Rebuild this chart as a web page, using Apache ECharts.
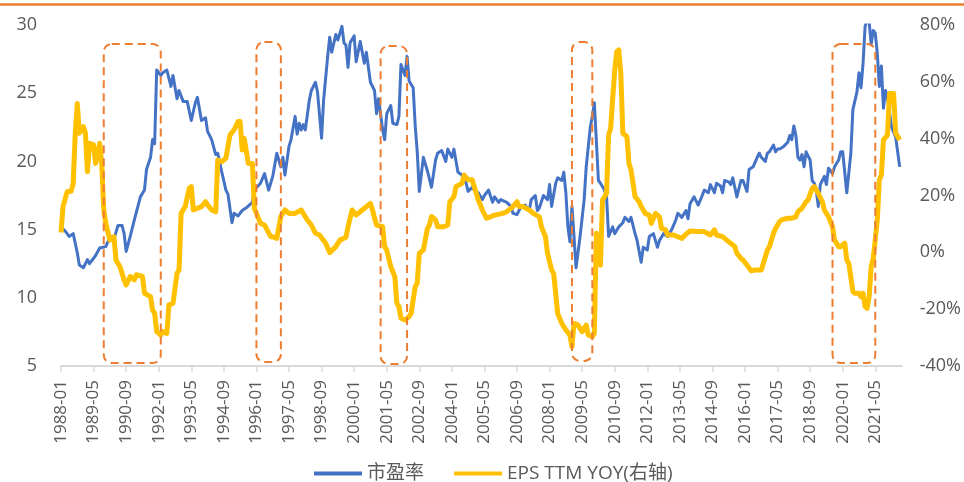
<!DOCTYPE html>
<html>
<head>
<meta charset="utf-8">
<script src="https://cdn.jsdelivr.net/npm/echarts@6/dist/echarts.min.js"></script>
<style>
  html, body { margin: 0; padding: 0; background: #ffffff; }
  #chart { width: 964px; height: 482px; }
</style>
</head>
<body>
<div id="chart"></div>
<script>
// Monthly categories, 1988-01 .. 2022-06
const startYear = 1988;
const monthCount = 414;
const months = [];
for (let i = 0; i < monthCount; i++) {
  const y = startYear + Math.floor(i / 12);
  const m = (i % 12) + 1;
  months.push(y + '-' + (m < 10 ? '0' + m : m));
}

// P/E ratio (left axis): [month offset from 1988-01, value]
const peSeries = [
  [0,15.2],[2,14.9],[4,14.5],[6,14.7],[8,13.3],[9,12.4],[11,12.2],[13,12.8],[14,12.5],[16,12.9],
  [17,13.1],[19,13.65],[22,13.75],[23,14.1],[25,14.5],[26,14.3],[28,15.3],[30,15.3],[31,14.7],[32,13.4],
  [34,14.5],[36,15.7],[39,17.4],[41,17.9],[42,19.4],[44,20.3],[45,21.6],[46,21.3],[47,26.7],[49,26.3],
  [50,26.5],[52,26.7],[54,25.5],[55,26.3],[57,24.6],[58,25.2],[60,24.4],[62,24.4],[64,23.0],[66,24.3],
  [67,24.7],[69,23.0],[71,23.2],[72,22.2],[74,21.6],[76,20.5],[77,20.6],[79,19.2],[81,17.9],[82,17.6],
  [84,15.5],[85,16.2],[87,16.0],[89,16.4],[91,16.6],[94,17.0],[95,17.9],[98,18.4],[100,19.1],[102,17.9],
  [104,18.9],[106,20.6],[108,19.6],[109,20.3],[110,19.0],[112,21.1],[113,21.6],[115,23.3],[116,22.0],[117,22.8],
  [118,22.3],[119,22.7],[120,22.3],[122,24.5],[123,25.2],[125,25.8],[126,25.1],[128,21.7],[129,24.5],[131,27.7],
  [132,29.1],[133,28.0],[135,29.3],[136,28.9],[138,29.9],[139,28.7],[140,28.5],[141,26.9],[142,28.7],[144,29.2],
  [145,27.3],[147,28.8],[149,27.2],[150,28.0],[152,25.8],[154,25.2],[155,23.5],[156,24.6],[158,22.3],[159,21.6],
  [160,23.5],[162,24.1],[163,22.8],[165,22.7],[166,23.3],[167,27.1],[169,26.3],[170,27.7],[171,25.9],[173,25.4],
  [174,22.6],[175,20.7],[176,17.8],[178,20.3],[180,19.3],[182,18.1],[184,20.1],[185,20.6],[187,20.8],[189,20.0],
  [190,20.9],[192,20.3],[193,20.9],[195,19.2],[197,19.0],[199,18.4],[200,17.8],[202,18.1],[203,17.9],[205,17.7],
  [207,17.2],[208,17.5],[210,17.9],[212,17.0],[213,17.4],[215,17.0],[216,17.2],[219,17.0],[221,16.7],[222,16.2],
  [224,16.1],[226,16.7],[228,16.8],[230,16.4],[231,17.2],[233,17.5],[234,16.4],[235,16.6],[237,17.5],[239,17.2],
  [240,18.3],[241,16.7],[243,18.4],[244,18.8],[246,18.6],[247,19.2],[248,17.7],[249,15.2],[250,14.1],[251,16.7],
  [252,14.5],[253,12.2],[255,14.5],[257,17.2],[258,19.6],[260,22.5],[261,23.3],[262,24.3],[264,18.6],[265,18.4],
  [267,17.9],[268,17.4],[269,14.5],[271,15.2],[272,14.7],[274,15.2],[276,15.5],[277,15.9],[279,15.6],[280,15.9],
  [282,14.7],[283,14.2],[285,12.6],[286,13.7],[288,13.5],[289,14.5],[291,14.7],[293,13.7],[294,14.2],[296,14.7],
  [298,14.5],[300,15.0],[302,15.7],[303,16.2],[305,15.9],[307,16.4],[308,15.8],[309,16.9],[311,17.4],[313,16.8],
  [315,17.5],[316,17.9],[318,17.7],[319,18.3],[321,17.7],[322,18.4],[324,18.2],[325,17.7],[326,18.6],[328,18.5],
  [329,18.3],[330,18.8],[332,17.4],[334,18.6],[335,18.6],[337,17.8],[338,19.4],[340,19.6],[342,20.3],[343,20.6],
  [344,20.3],[346,20.0],[347,20.6],[348,20.7],[350,21.2],[351,20.7],[352,20.9],[353,20.9],[355,21.1],[357,21.4],
  [358,21.9],[359,21.6],[360,22.6],[361,21.9],[362,20.3],[363,20.1],[364,20.5],[365,19.6],[366,20.7],[368,20.1],
  [369,18.6],[370,18.4],[371,17.9],[372,16.7],[373,18.3],[374,18.6],[375,18.9],[376,18.3],[377,19.5],[379,19.1],
  [380,19.6],[382,20.1],[383,20.7],[384,20.7],[386,17.7],[388,20.6],[389,23.8],[391,25.1],[392,26.5],[393,25.4],
  [394,27.2],[395,29.9],[396,30.4],[397,30.2],[398,28.6],[399,29.6],[400,29.4],[401,27.9],[402,25.5],[403,27.0],
  [404,23.9],[405,25.2],[406,24.7],[408,22.5],[410,21.8],[412,19.6]
];

// EPS TTM year-over-year growth, % (right axis): [month offset from 1988-01, value]
const epsSeries = [
  [0,7.0],[1,16.1],[3,21.3],[5,21.5],[6,24.3],[7,41.9],[8,52.4],[9,41.9],[11,44.2],[12,41.9],
  [13,28.4],[14,38.4],[16,37.8],[17,31.3],[18,33.7],[19,38.4],[20,31.3],[21,14.9],[22,10.2],[24,4.3],
  [26,5.5],[27,-2.7],[29,-5.1],[31,-9.7],[32,-11.5],[34,-8.5],[36,-9.7],[37,-7.9],[40,-8.5],[41,-14.4],
  [44,-15.6],[45,-20.3],[46,-21.4],[47,-27.9],[49,-29.1],[50,-27.9],[52,-28.5],[53,-18.5],[55,-18.0],[57,-7.4],
  [58,-6.2],[59,13.7],[61,16.1],[63,22.5],[64,23.1],[65,14.9],[67,15.5],[69,16.1],[71,17.8],[72,16.7],
  [74,14.9],[76,14.3],[77,32.5],[79,31.9],[81,33.1],[83,41.3],[85,43.1],[87,46.0],[88,46.0],[89,36.0],
  [90,40.1],[92,31.3],[94,31.3],[95,15.5],[98,10.2],[100,9.6],[103,5.5],[104,5.5],[106,4.9],[108,12.6],
  [110,14.9],[112,13.7],[115,13.7],[118,14.9],[121,11.4],[123,9.6],[125,6.7],[127,6.1],[130,3.2],[132,-0.1],
  [135,2.0],[137,4.3],[140,5.3],[141,9.0],[143,14.9],[145,13.1],[148,14.9],[150,16.1],[152,17.2],[153,14.9],
  [155,9.6],[158,9.0],[159,2.0],[160,0.8],[162,-5.0],[164,-8.6],[165,-17.9],[166,-19.1],[167,-23.2],[169,-23.8],
  [171,-22.6],[172,-21.5],[174,-12.1],[175,-10.9],[176,-0.3],[178,0.8],[180,8.4],[181,9.6],[182,12.6],[184,11.4],
  [185,9.0],[188,9.0],[190,9.6],[191,17.8],[193,19.6],[194,23.1],[197,24.3],[198,27.2],[200,25.5],[202,25.5],
  [203,23.1],[205,18.4],[207,14.9],[209,12.0],[211,12.5],[213,13.1],[217,13.7],[219,14.3],[222,16.1],[224,17.8],
  [225,16.1],[227,16.1],[230,14.9],[232,13.7],[235,12.5],[236,9.0],[238,5.5],[239,-0.3],[241,-6.2],[242,-7.4],
  [243,-14.4],[244,-21.5],[246,-25.0],[248,-27.3],[250,-29.1],[251,-33.2],[252,-25.0],[254,-25.6],[256,-27.9],[258,-25.6],
  [259,-29.1],[261,-29.7],[262,-28.5],[263,6.7],[264,-2.7],[265,-4.5],[266,18.4],[268,20.8],[269,41.3],[270,43.6],
  [272,64.2],[273,70.6],[274,71.2],[275,63.0],[276,41.9],[278,40.7],[279,31.3],[280,29.0],[282,19.6],[284,17.8],
  [285,16.1],[287,13.7],[289,13.1],[290,10.2],[292,13.7],[294,12.5],[295,8.4],[297,7.9],[298,6.1],[301,6.1],
  [303,5.5],[305,4.9],[307,6.4],[309,7.5],[312,7.3],[314,7.3],[316,7.3],[319,6.1],[321,7.9],[322,6.1],
  [325,5.5],[327,4.3],[330,2.6],[331,2.0],[332,-0.3],[334,-2.1],[335,-2.7],[337,-4.5],[339,-6.5],[341,-6.2],
  [344,-6.2],[345,-3.9],[347,0.8],[348,2.0],[350,6.7],[351,8.4],[353,10.8],[354,11.4],[357,12.0],[359,12.0],
  [361,12.5],[362,14.3],[364,15.5],[366,17.8],[367,18.4],[369,22.5],[370,23.1],[372,20.8],[374,17.8],[375,14.9],
  [377,12.5],[379,9.0],[380,4.3],[382,2.0],[383,2.0],[385,3.2],[386,-2.7],[387,-3.9],[389,-13.8],[390,-14.4],
  [392,-14.4],[393,-15.6],[394,-14.4],[395,-19.1],[396,-19.7],[397,-15.6],[398,-5.0],[399,-2.1],[401,11.4],[402,25.5],
  [403,27.2],[404,39.5],[406,41.3],[407,55.9],[409,55.9],[410,42.0],[412,39.5]
];

// Highlighted periods: [start month, end month, top (P/E), bottom (P/E)]
const highlightWindows = [
  [21, 49, 28.6, 5.22],
  [96, 108, 28.75, 5.29],
  [157, 170, 28.46, 5.15],
  [251, 261, 28.75, 5.37],
  [379, 400, 28.6, 5.22]
];

const peTicks = { min: 5, max: 30, interval: 5 };
const epsTicks = { min: -40, max: 80, interval: 20 };

const textColor = '#595959';
const fontFamily = '"Open Sans", "Noto Sans CJK SC", sans-serif';

const chart = echarts.init(document.getElementById('chart'), null, { renderer: 'canvas' });

chart.setOption({
  animation: false,
  backgroundColor: '#ffffff',
  textStyle: { fontFamily: fontFamily, color: textColor },
  graphic: [{
    type: 'line',
    shape: { x1: 0, y1: 4.5, x2: 964, y2: 4.5 },
    style: { stroke: '#ED7D31', lineWidth: 2.5 },
    silent: true
  }],
  grid: { left: 61, right: 62, top: 25, bottom: 116 },
  legend: {
    left: 309,
    top: 459,
    itemGap: 30,
    itemWidth: 48,
    itemHeight: 4,
    icon: 'rect',
    textStyle: { fontSize: 19, color: textColor, fontFamily: fontFamily },
    data: ['市盈率', 'EPS TTM YOY(右轴)']
  },
  xAxis: {
    type: 'category',
    data: months,
    boundaryGap: false,
    axisLine: { onZero: false, lineStyle: { color: '#D9D9D9', width: 2 } },
    axisTick: { show: true, interval: 15, length: 6, lineStyle: { color: '#D9D9D9', width: 1.5 } },
    axisLabel: { interval: 15, rotate: 90, margin: 14, fontSize: 17, color: textColor, fontFamily: fontFamily },
    splitLine: { show: false }
  },
  yAxis: [{
    type: 'value',
    min: peTicks.min, max: peTicks.max, interval: peTicks.interval,
    axisLine: { show: false },
    axisTick: { show: false },
    splitLine: { show: false },
    axisLabel: { margin: 24, fontSize: 18, color: textColor, fontFamily: fontFamily }
  }, {
    type: 'value',
    min: epsTicks.min, max: epsTicks.max, interval: epsTicks.interval,
    axisLine: { show: false },
    axisTick: { show: false },
    splitLine: { show: false },
    axisLabel: { margin: 18, fontSize: 18, color: textColor, fontFamily: fontFamily, formatter: '{value}%' }
  }],
  series: [{
    name: '市盈率',
    type: 'line',
    yAxisIndex: 0,
    data: peSeries,
    showSymbol: false,
    symbol: 'none',
    color: '#4472C4',
    lineStyle: { color: '#4472C4', width: 3, join: 'round' },
    z: 2
  }, {
    name: 'EPS TTM YOY(右轴)',
    type: 'line',
    yAxisIndex: 1,
    data: epsSeries,
    showSymbol: false,
    symbol: 'none',
    color: '#FFC000',
    lineStyle: { color: '#FFC000', width: 5, join: 'round' },
    z: 3
  }, {
    name: 'highlight',
    type: 'custom',
    yAxisIndex: 0,
    silent: true,
    z: 5,
    encode: { x: [0, 1], y: [2, 3] },
    data: highlightWindows,
    renderItem: function (params, api) {
      const p0 = api.coord([api.value(0), api.value(2)]);
      const p1 = api.coord([api.value(1), api.value(3)]);
      return {
        type: 'rect',
        shape: { x: p0[0], y: p0[1], width: p1[0] - p0[0], height: p1[1] - p0[1], r: 8 },
        style: { fill: 'none', stroke: '#ED7D31', lineWidth: 2, lineDash: [8, 5] }
      };
    }
  }]
});
</script>
</body>
</html>
